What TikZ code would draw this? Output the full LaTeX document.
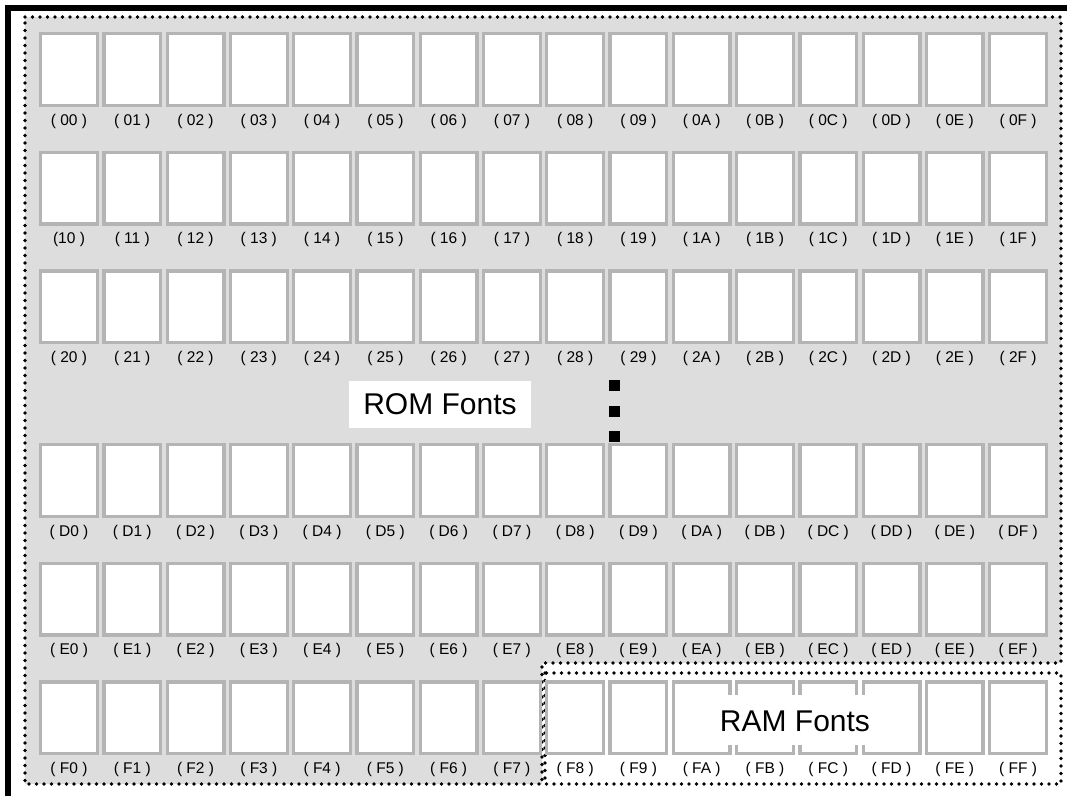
\documentclass[tikz,border=0pt]{standalone}
\usepackage{fontspec}
\setmainfont{Liberation Sans}
\definecolor{bggray}{RGB}{221,221,221}
\definecolor{cellgray}{RGB}{180,180,180}
\begin{document}
\begin{tikzpicture}[x=1pt,y=-1pt,
  cell/.style={draw=cellgray, line width=3.3pt, fill=white, inner sep=0pt,
    minimum width=56.7pt, minimum height=71.7pt},
  dotline/.style={line width=3.8pt, dash pattern=on 0pt off 7.5pt, line cap=round},
  lab/.style={font=\fontsize{15.5}{17}\selectfont, anchor=base, inner sep=0pt},
  big/.style={font=\fontsize{30}{34}\selectfont, inner sep=0pt},
  sq/.style={fill=black, minimum size=11pt, inner sep=0pt}]
\useasboundingbox (0,0) rectangle (1067,796);
% outer frame (left and top)
\draw[line width=6pt] (8,796) -- (8,8) -- (1067,8);
% ROM region
\draw[dotline, fill=bggray] (25,17) -- (1061,17) -- (1061,663) -- (542,663) -- (542,784) -- (25,784) -- cycle;
% RAM region
\draw[dotline, fill=white] (545,673) rectangle (1061,784);
% cells and labels
\foreach \r/\t in {0/32,1/150.6,2/269.2,D/443,E/561.6,F/680.2}{
  \foreach \h [count=\i from 0] in {0,1,2,3,4,5,6,7,8,9,A,B,C,D,E,F}{
    \node[cell] (c\r\h) at (69+63.27*\i, \t+37.5) {};
    \edef\tmp{\r\h}\def\ten{10}%
    \node[lab] (l\r\h) at (69+63.27*\i, \t+75+18) {\ifx\tmp\ten(10 )\else( \r\h{} )\fi};
  }
}
% ROM Fonts label
\fill[white] (349,381) rectangle (531,428);
\node[big] (rom) at (440,404.5) {ROM Fonts};
% RAM Fonts label
\fill[white] (705,695) rectangle (885,745);
\node[big] (ram) at (795,721) {RAM Fonts};
% vertical ellipsis
\node[sq] (d1) at (614.5,385.5) {};
\node[sq] (d2) at (614.5,411.5) {};
\node[sq] (d3) at (614.5,436.5) {};
\end{tikzpicture}
\end{document}
